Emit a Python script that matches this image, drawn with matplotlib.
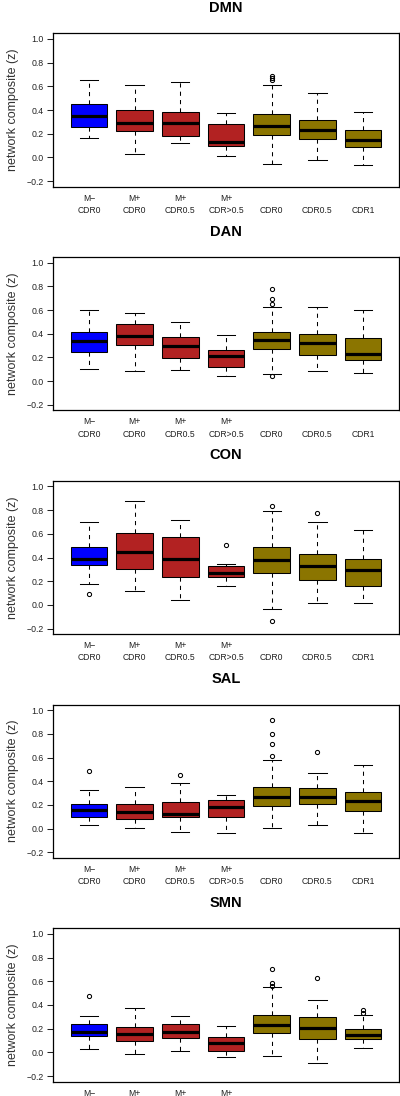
import matplotlib
matplotlib.use('Agg')
import matplotlib.pyplot as plt

plt.rcParams['font.family'] = ['Liberation Sans', 'DejaVu Sans']

# groups along the x axis
group_top    = ['M\u2212', 'M+', 'M+', 'M+', ' ', ' ', ' ']
group_bottom = ['CDR0', 'CDR0', 'CDR0.5', 'CDR>0.5', 'CDR0', 'CDR0.5', 'CDR1']
box_colors   = ['#0000FF', '#B22222', '#B22222', '#B22222', '#8B7500', '#8B7500', '#8B7500']

networks = ['DMN', 'DAN', 'CON', 'SAL', 'SMN']

# (whisker low, Q1, median, Q3, whisker high) per group
dmn_stats = [(0.164, 0.254, 0.348, 0.452, 0.653), (0.031, 0.223, 0.291, 0.398, 0.610),
             (0.119, 0.181, 0.286, 0.379, 0.636), (0.009, 0.094, 0.133, 0.280, 0.373),
             (-0.059, 0.190, 0.266, 0.362, 0.607), (-0.025, 0.158, 0.232, 0.317, 0.545),
             (-0.065, 0.091, 0.147, 0.232, 0.384)]
dmn_fliers = [[], [], [], [], [0.655, 0.670, 0.685], [], []]

dan_stats = [(0.104, 0.242, 0.338, 0.417, 0.603), (0.082, 0.301, 0.377, 0.484, 0.577),
             (0.096, 0.197, 0.296, 0.369, 0.496), (0.045, 0.118, 0.211, 0.265, 0.386),
             (0.060, 0.268, 0.344, 0.414, 0.623), (0.087, 0.217, 0.321, 0.397, 0.628),
             (0.065, 0.177, 0.225, 0.366, 0.603)]
dan_fliers = [[], [], [], [], [0.775, 0.693, 0.648, 0.039], [], []]

con_stats = [(0.177, 0.338, 0.389, 0.487, 0.699), (0.113, 0.301, 0.448, 0.606, 0.876),
             (0.039, 0.239, 0.386, 0.572, 0.713), (0.155, 0.237, 0.273, 0.327, 0.346),
             (-0.034, 0.268, 0.380, 0.490, 0.794), (0.017, 0.214, 0.324, 0.428, 0.699),
             (0.014, 0.161, 0.296, 0.389, 0.631)]
con_fliers = [[0.090], [], [], [0.504], [0.839, -0.135], [0.780], []]

sal_stats = [(0.029, 0.099, 0.161, 0.212, 0.328), (0.009, 0.079, 0.139, 0.204, 0.350),
             (-0.028, 0.096, 0.122, 0.223, 0.384), (-0.039, 0.102, 0.181, 0.240, 0.280),
             (0.009, 0.187, 0.271, 0.348, 0.579), (0.034, 0.204, 0.271, 0.342, 0.469),
             (-0.034, 0.147, 0.229, 0.311, 0.534)]
sal_fliers = [[0.486], [], [0.452], [], [0.915, 0.797, 0.712, 0.616], [0.647], []]

smn_stats = [(0.025, 0.141, 0.169, 0.242, 0.310), (-0.014, 0.096, 0.158, 0.217, 0.377),
             (0.011, 0.124, 0.175, 0.237, 0.304), (-0.037, 0.014, 0.082, 0.127, 0.223),
             (-0.028, 0.161, 0.234, 0.313, 0.549), (-0.087, 0.113, 0.206, 0.296, 0.442),
             (0.034, 0.113, 0.146, 0.194, 0.315)]
smn_fliers = [[0.476], [], [], [], [0.704, 0.589, 0.561], [0.628], [0.355, 0.335]]

all_stats = [dmn_stats, dan_stats, con_stats, sal_stats, smn_stats]
all_fliers = [dmn_fliers, dan_fliers, con_fliers, sal_fliers, smn_fliers]

W, H = 400, 1096
fig = plt.figure(figsize=(W / 100, H / 100), dpi=100)

ax_left, ax_right = 53.3, 398.7
ax_h, step, first_top = 153.4, 223.75, 33.3

for i, name in enumerate(networks):
    top = first_top + i * step
    ax = fig.add_axes([ax_left / W, 1 - (top + ax_h) / H, (ax_right - ax_left) / W, ax_h / H])

    stats = []
    for j, (lo, q1, med, q3, hi) in enumerate(all_stats[i]):
        stats.append({'whislo': lo, 'q1': q1, 'med': med, 'q3': q3, 'whishi': hi,
                      'fliers': all_fliers[i][j]})

    bp = ax.bxp(stats, positions=range(1, 8), widths=0.8, patch_artist=True,
                boxprops=dict(edgecolor='black', linewidth=0.75),
                medianprops=dict(color='black', linewidth=2.3, solid_capstyle='butt'),
                whiskerprops=dict(color='black', linewidth=0.75, linestyle=(0, (4, 4))),
                capprops=dict(color='black', linewidth=0.75),
                capwidths=0.4,
                flierprops=dict(marker='o', markersize=3, markerfacecolor='none',
                                markeredgecolor='black', markeredgewidth=0.75))
    for patch, c in zip(bp['boxes'], box_colors):
        patch.set_facecolor(c)

    ax.set_xlim(0.22, 7.78)
    ax.set_ylim(-0.248, 1.048)
    ax.set_yticks([-0.2, 0.0, 0.2, 0.4, 0.6, 0.8, 1.0])
    ax.set_yticklabels(['\u22120.2', '0.0', '0.2', '0.4', '0.6', '0.8', '1.0'])
    ax.set_xticks(range(1, 8))
    ax.set_xticklabels([t + '\n' + b for t, b in zip(group_top, group_bottom)],
                       linespacing=1.45)
    ax.tick_params(axis='x', length=0, pad=5, labelsize=6.2, colors='#222222')
    ax.tick_params(axis='y', length=4.5, width=0.75, pad=2.5, labelsize=6.3, colors='#222222')
    for sp in ax.spines.values():
        sp.set_linewidth(0.9)
    ax.set_ylabel('network composite (z)', fontsize=9, color='#333333')
    ax.yaxis.set_label_coords(-0.098, 0.5)
    ax.set_title(name, fontsize=10.5, fontweight='bold', pad=15.5)

fig.savefig('out.png', dpi=100)
